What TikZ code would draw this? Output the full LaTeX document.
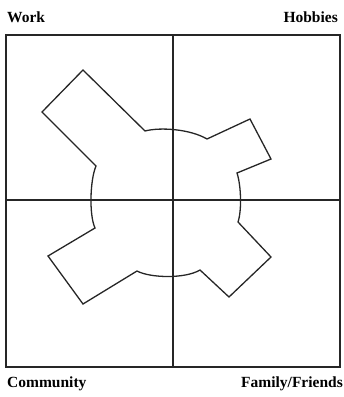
\documentclass[tikz,border=0pt]{standalone}
\usepackage{fontspec}
\setmainfont{Liberation Serif}
\begin{document}
\begin{tikzpicture}[x=1pt,y=-1pt,
  lbl/.style={font=\fontsize{15.5}{18}\selectfont\bfseries, inner sep=0pt},
  frame/.style={line width=1.6pt, draw=black!85},
  blob/.style={line width=1.3pt, draw=black!85, line join=miter}]
\useasboundingbox (0,0) rectangle (344,397);
\node[lbl, anchor=west] (work) at (7,17) {Work};
\node[lbl, anchor=east] (hob) at (338,17) {Hobbies};
\node[lbl, anchor=west] (com) at (7,384) {Community};
\node[lbl, anchor=east] (fam) at (343,384) {Family/Friends};
\coordinate (tl) at (6,35);
\coordinate (br) at (340,367);
\coordinate (mt) at (173,35);
\coordinate (mb) at (173,367);
\coordinate (ml) at (6,200);
\coordinate (mr) at (340,200);
\draw[frame] (tl) rectangle (br);
\draw[frame] (mt) -- (mb);
\draw[frame] (ml) -- (mr);
\draw[blob] (145,131) .. controls (160,127) and (190,129) .. (207,139)
  -- (250,119) -- (271,159) -- (237,173)
  .. controls (241,185) and (242,210) .. (238,222)
  -- (271,257) -- (229,297) -- (200,270)
  .. controls (185,279) and (150,278) .. (137,271)
  -- (83,304) -- (48,256) -- (95,228)
  .. controls (89,215) and (90,180) .. (96,166)
  -- (42,112) -- (83,70) -- cycle;
\end{tikzpicture}
\end{document}
